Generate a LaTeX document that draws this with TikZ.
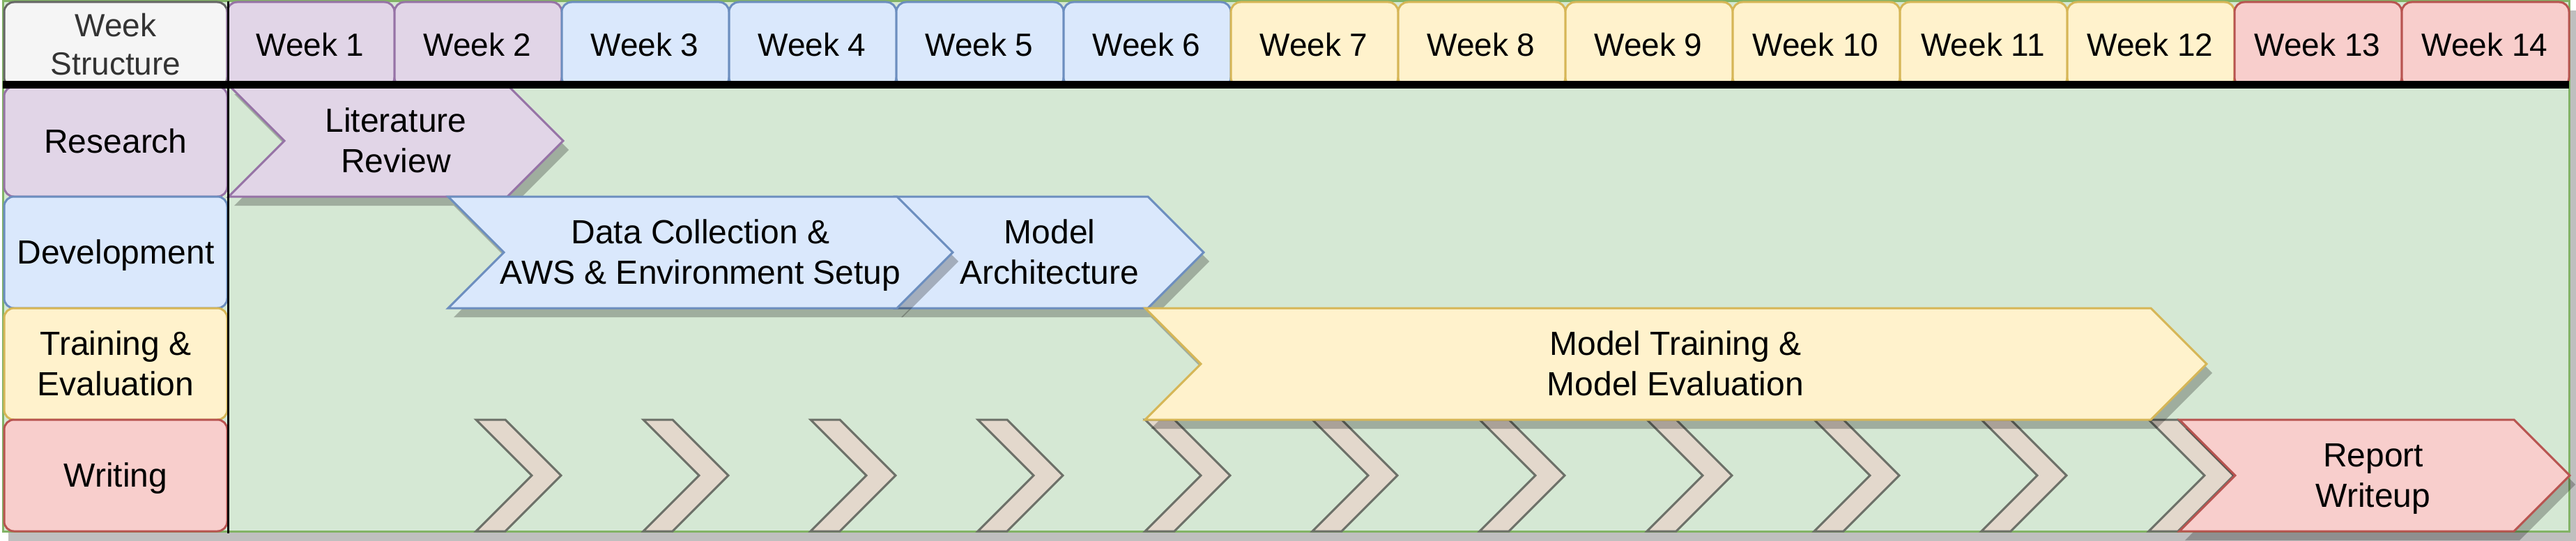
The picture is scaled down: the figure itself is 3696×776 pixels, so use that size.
\documentclass[tikz,border=0pt]{standalone}
\usepackage{fontspec}
\setmainfont{Liberation Sans}
\definecolor{purF}{HTML}{E1D5E7}\definecolor{purS}{HTML}{9673A6}
\definecolor{bluF}{HTML}{DAE8FC}\definecolor{bluS}{HTML}{6C8EBF}
\definecolor{yelF}{HTML}{FFF2CC}\definecolor{yelS}{HTML}{D6B656}
\definecolor{redF}{HTML}{F8CECC}\definecolor{redS}{HTML}{B85450}
\definecolor{grnF}{HTML}{D5E8D4}\definecolor{grnS}{HTML}{82B366}
\definecolor{gryF}{HTML}{F5F5F5}\definecolor{gryS}{HTML}{666666}
\definecolor{gryT}{HTML}{333333}
\definecolor{tanF}{RGB}{227,216,204}\definecolor{tanS}{RGB}{108,112,104}
% chevron outline: x, y, width, height, notch depth
\newcommand\chevpath[5]{(#1,#2) -- ++({#3-#5},0) -- ++(#5,{#4/2}) -- ++(-#5,{#4/2}) -- ++({#5-#3},0) -- ++(#5,{-#4/2}) -- cycle}
\newcommand\chevron[6]{%
  \fill[shadowfill, shift={(8,13)}] \chevpath{#2}{#3}{#4}{#5}{#6};
  \draw[chevbox, #1] \chevpath{#2}{#3}{#4}{#5}{#6};}
\tikzset{
  hbox/.style={rounded corners=14pt, line width=3pt},
  chevbox/.style={line width=3pt, line join=miter},
  shadowfill/.style={fill=black, fill opacity=0.25},
  hdrtext/.style={font=\fontsize{46}{55.2}\selectfont, align=center, inner sep=0pt},
  bodytext/.style={font=\fontsize{48}{57.6}\selectfont, align=center, inner sep=0pt},
}
\begin{document}
\begin{tikzpicture}[x=1pt, y=-1pt]
\useasboundingbox (0,0) rectangle (3696,776);
% background pool with shadow
\fill[shadowfill] (12,15) rectangle (3696,776);
\draw[fill=grnF, draw=grnS, line width=3pt] (4,2) rectangle (3686,762);
% header
\draw[hbox, fill=gryF, draw=gryS] (6,3) rectangle (326,125);
\node[hdrtext, text=gryT] (ws) at (166,69) {\strut Week\\\strut Structure};
\foreach \k/\f/\s in {1/purF/purS,2/purF/purS,3/bluF/bluS,4/bluF/bluS,5/bluF/bluS,6/bluF/bluS,
  7/yelF/yelS,8/yelF/yelS,9/yelF/yelS,10/yelF/yelS,11/yelF/yelS,12/yelF/yelS,13/redF/redS,14/redF/redS}{
  \draw[hbox, fill=\f, draw=\s] ({326+240*(\k-1)},3) rectangle ({326+240*\k},125);
  \node[hdrtext] (w\k) at ({445+240*(\k-1)},69) {\strut Week \k};
}
% row labels
\draw[hbox, fill=purF, draw=purS] (6,124) rectangle (326,282);
\node[bodytext] (rres) at (166,208) {\strut Research};
\draw[hbox, fill=bluF, draw=bluS] (6,282) rectangle (326,442);
\node[bodytext] (rdev) at (166,367) {\strut Development};
\draw[hbox, fill=yelF, draw=yelS] (6,442) rectangle (326,602);
\node[bodytext] (rtrn) at (166,527) {\strut Training \&\\\strut Evaluation};
\draw[hbox, fill=redF, draw=redS] (6,602) rectangle (326,762);
\node[bodytext] (rwri) at (166,687) {\strut Writing};
% task chevrons
\chevron{fill=purF, draw=purS}{328}{122}{480}{160}{80}
\node[bodytext] (lr) at (568,207) {\strut Literature\\\strut Review};
\chevron{fill=bluF, draw=bluS}{1285}{282}{442}{160}{80}
\chevron{fill=bluF, draw=bluS}{643}{282}{724}{160}{80}
\node[bodytext] (dc) at (1005,367) {\strut Data Collection \&\\\strut AWS \& Environment Setup};
\node[bodytext] (ma) at (1506,367) {\strut Model\\\strut Architecture};
\foreach \k in {0,...,10}{
  \draw[chevbox, fill=tanF, draw=tanS] \chevpath{683+240*\k}{602}{122}{160}{80};
}
\chevron{fill=yelF, draw=yelS}{1643}{442}{1523}{160}{80}
\node[bodytext] (mt) at (2404,527) {\strut Model Training \&\\\strut Model Evaluation};
\chevron{fill=redF, draw=redS}{3127}{602}{560}{160}{80}
\node[bodytext] (rw) at (3405,687) {\strut Report\\\strut Writeup};
% separators
\coordinate (hl) at (4,121);
\coordinate (hr) at (3686,121);
\coordinate (vt) at (327.5,2);
\coordinate (vb) at (327.5,765);
\draw[line width=11pt] (hl) -- (hr);
\draw[line width=3pt] (vt) -- (vb);
\end{tikzpicture}
\end{document}
